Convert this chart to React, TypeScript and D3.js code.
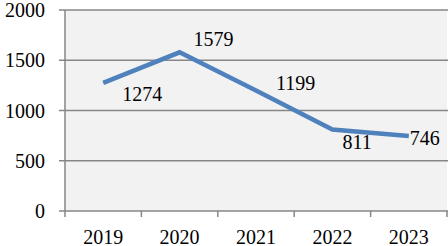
import React, { useRef, useEffect } from 'react';
import * as d3 from 'd3';

const years = ['2019', '2020', '2021', '2022', '2023'];
const values = [1274, 1579, 1199, 811, 746];
const yTicks = [0, 500, 1000, 1500, 2000];
// label placement relative to the point: [dx, dy]
const labelOffsets: [number, number][] = [
  [19, 18],
  [14, -6],
  [20, -1],
  [10, 20],
  [1, 9],
];

export default function App() {
  const ref = useRef<SVGSVGElement>(null);

  useEffect(() => {
    const width = 448;
    const height = 246;
    const margin = { top: 10, right: 1, bottom: 35, left: 65 };

    const svg = d3.select(ref.current);
    svg.selectAll('*').remove();

    const x = d3.scaleBand().domain(years).range([margin.left, width - margin.right]);
    const y = d3.scaleLinear().domain([0, 2000]).range([height - margin.bottom, margin.top]);

    const font = "'Times New Roman', Times, 'Liberation Serif', 'DejaVu Serif', serif";
    const fs = '20px';

    svg.append('rect')
      .attr('x', margin.left)
      .attr('y', y(2000))
      .attr('width', width - margin.right - margin.left)
      .attr('height', y(0) - y(2000))
      .attr('fill', '#f2f2f2');

    // gridlines
    svg.append('g')
      .selectAll('line')
      .data(yTicks.filter(t => t > 0))
      .enter()
      .append('line')
      .attr('x1', margin.left - 6)
      .attr('x2', width)
      .attr('y1', d => y(d))
      .attr('y2', d => y(d))
      .attr('stroke', '#868686')
      .attr('stroke-width', 1.5);

    // y axis line
    svg.append('line')
      .attr('x1', margin.left).attr('x2', margin.left)
      .attr('y1', y(2000)).attr('y2', y(0))
      .attr('stroke', '#868686').attr('stroke-width', 1.5);

    // x axis line
    svg.append('line')
      .attr('x1', margin.left - 6).attr('x2', width)
      .attr('y1', y(0)).attr('y2', y(0))
      .attr('stroke', '#868686').attr('stroke-width', 1.5);

    // x ticks at band boundaries
    const bounds = years.map(d => x(d) as number).concat([width - margin.right]);
    svg.append('g')
      .selectAll('line')
      .data(bounds)
      .enter()
      .append('line')
      .attr('x1', d => d).attr('x2', d => d)
      .attr('y1', y(0)).attr('y2', y(0) + 6)
      .attr('stroke', '#868686').attr('stroke-width', 1.5);

    // y labels
    svg.append('g')
      .selectAll('text')
      .data(yTicks)
      .enter()
      .append('text')
      .attr('x', margin.left - 20)
      .attr('y', d => y(d))
      .attr('dy', '0.35em')
      .attr('text-anchor', 'end')
      .style('font-family', font)
      .style('font-size', fs)
      .attr('fill', '#000')
      .text(d => d);

    // x labels
    svg.append('g')
      .selectAll('text')
      .data(years)
      .enter()
      .append('text')
      .attr('x', d => (x(d) as number) + x.bandwidth() / 2)
      .attr('y', height - 2)
      .attr('text-anchor', 'middle')
      .style('font-family', font)
      .style('font-size', fs)
      .attr('fill', '#000')
      .text(d => d);

    const cx = (i: number) => (x(years[i]) as number) + x.bandwidth() / 2;

    const line = d3.line<number>()
      .x((d, i) => cx(i))
      .y(d => y(d));

    svg.append('path')
      .datum(values)
      .attr('d', line)
      .attr('fill', 'none')
      .attr('stroke', '#4f81bd')
      .attr('stroke-width', 4.5)
      .attr('stroke-linejoin', 'miter');

    svg.append('g')
      .selectAll('text')
      .data(values)
      .enter()
      .append('text')
      .attr('x', (d, i) => cx(i) + labelOffsets[i][0])
      .attr('y', (d, i) => y(d) + labelOffsets[i][1])
      .style('font-family', font)
      .style('font-size', fs)
      .attr('fill', '#000')
      .text(d => d);
  }, []);

  return (
    <svg
      ref={ref}
      width={448}
      height={246}
      style={{ position: 'absolute', left: 0, top: 0, background: '#fff' }}
    />
  );
}
